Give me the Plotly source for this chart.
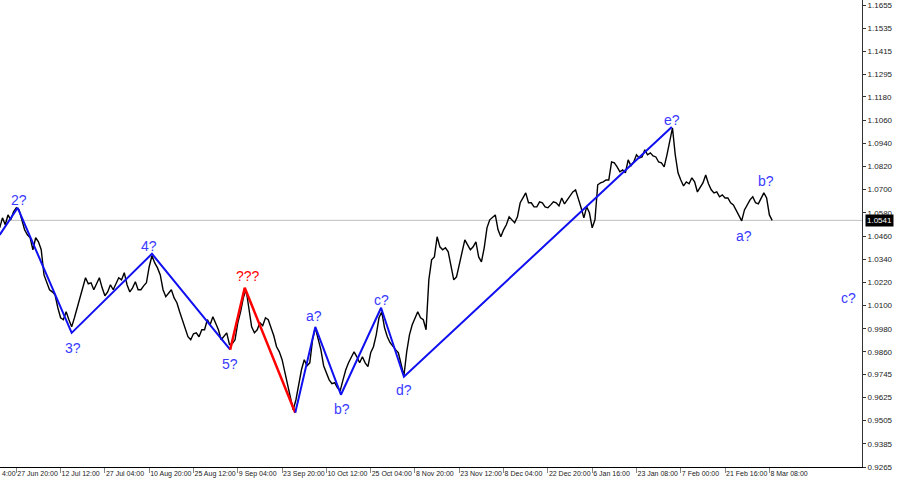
import plotly.graph_objects as go

close = [
    1.0502, 1.0554, 1.0518, 1.0569, 1.0544, 1.0585, 1.0606, 1.0595, 1.0544, 1.0492,
    1.0466, 1.0451, 1.0389, 1.0451, 1.0430, 1.0389, 1.0259, 1.0218, 1.0182, 1.0171,
    1.0156, 1.0089, 1.0037, 1.0027, 1.0068, 1.0027, 0.9990, 1.0037, 1.0089, 1.0130,
    1.0182, 1.0244, 1.0213, 1.0218, 1.0182, 1.0218, 1.0244, 1.0192, 1.0151, 1.0171,
    1.0208, 1.0182, 1.0218, 1.0244, 1.0233, 1.0270, 1.0208, 1.0171, 1.0192, 1.0223,
    1.0182, 1.0182, 1.0202, 1.0218, 1.0301, 1.0358, 1.0321, 1.0295, 1.0259, 1.0182,
    1.0146, 1.0166, 1.0182, 1.0140, 1.0115, 1.0068, 1.0027, 0.9975, 0.9939, 0.9923,
    0.9954, 0.9959, 0.9939, 0.9975, 0.9975, 1.0027, 1.0001, 1.0042, 1.0011, 0.9975,
    0.9923, 0.9944, 0.9959, 0.9898, 0.9903, 0.9923, 1.0011, 1.0068, 1.0140, 1.0182,
    1.0094, 0.9990, 0.9959, 0.9975, 1.0011, 0.9996, 1.0037, 1.0027, 0.9985, 0.9944,
    0.9887, 0.9861, 0.9820, 0.9753, 0.9696, 0.9623, 0.9561, 0.9613, 0.9691, 0.9768,
    0.9820, 0.9789, 0.9804, 0.9923, 0.9985, 0.9923, 0.9872, 0.9789, 0.9753, 0.9716,
    0.9696, 0.9701, 0.9675, 0.9660, 0.9716, 0.9768, 0.9804, 0.9835, 0.9861, 0.9835,
    0.9804, 0.9835, 0.9804, 0.9784, 0.9856, 0.9887, 0.9949, 1.0037, 1.0068, 0.9985,
    0.9939, 0.9908, 0.9887, 0.9872, 0.9856, 0.9794, 0.9737, 0.9861, 0.9949, 1.0001,
    1.0037, 1.0068, 1.0037, 1.0027, 0.9975, 1.0233, 1.0337, 1.0352, 1.0456, 1.0404,
    1.0389, 1.0399, 1.0378, 1.0306, 1.0233, 1.0249, 1.0311, 1.0378, 1.0440, 1.0414,
    1.0389, 1.0404, 1.0430, 1.0352, 1.0326, 1.0399, 1.0502, 1.0544, 1.0559, 1.0569,
    1.0492, 1.0456, 1.0492, 1.0518, 1.0559, 1.0544, 1.0528, 1.0559, 1.0632, 1.0657,
    1.0683, 1.0632, 1.0632, 1.0611, 1.0611, 1.0637, 1.0632, 1.0611, 1.0606, 1.0621,
    1.0637, 1.0632, 1.0616, 1.0657, 1.0626, 1.0647, 1.0668, 1.0688, 1.0699, 1.0657,
    1.0606, 1.0554, 1.0611, 1.0580, 1.0502, 1.0544, 1.0725, 1.0735, 1.0740, 1.0750,
    1.0750, 1.0843, 1.0838, 1.0818, 1.0792, 1.0802, 1.0787, 1.0854, 1.0823, 1.0843,
    1.0880, 1.0864, 1.0869, 1.0906, 1.0880, 1.0890, 1.0874, 1.0869, 1.0843, 1.0838,
    1.0818, 1.0880, 1.0957, 1.1019, 1.0880, 1.0787, 1.0750, 1.0719, 1.0740, 1.0730,
    1.0761, 1.0740, 1.0688, 1.0709, 1.0735, 1.0776, 1.0730, 1.0699, 1.0683, 1.0688,
    1.0663, 1.0673, 1.0657, 1.0657, 1.0632, 1.0621, 1.0595, 1.0569, 1.0538, 1.0595,
    1.0621, 1.0647, 1.0663, 1.0632, 1.0626, 1.0657, 1.0683, 1.0657, 1.0569, 1.0541,
]
first_bar = 40
bar_step = 4
bars = [first_bar + bar_step * i for i in range(len(close))]

# Wave count (bar index, price)
blue_bars_1 = [40, 66, 144, 260, 373]
blue_prices_1 = [1.0466, 1.0606, 0.9959, 1.0368, 0.9872]
red_bars = [373, 394, 467]
red_prices = [0.9872, 1.0192, 0.9546]
blue_bars_2 = [467, 496, 533, 591, 624, 1011]
blue_prices_2 = [0.9546, 0.9990, 0.9639, 1.0089, 0.9732, 1.1024]

wave_text = ["2?", "3?", "4?", "5?", "a?", "b?", "c?", "d?", "e?", "a?", "b?", "c?"]
wave_x = [68, 146, 256, 373, 494, 534, 591, 624, 1011, 1115, 1147, 1267]
wave_y = [1.0647, 0.9882, 1.0409, 0.9799, 1.0047, 0.9566, 1.0130, 0.9665, 1.1061, 1.0461, 1.0745, 1.0140]
red_text = "???"
red_x, red_y = 399, 1.0254

current_price = 1.0541

# Axis labels
first_date_label = "4:00"
date_ticks = [64 * k for k in range(1, 19)]
date_labels = ["27 Jun 20:00", "12 Jul 12:00", "27 Jul 04:00", "10 Aug 20:00", "25 Aug 12:00",
               "9 Sep 04:00", "23 Sep 20:00", "10 Oct 12:00", "25 Oct 04:00", "8 Nov 20:00",
               "23 Nov 12:00", "8 Dec 04:00", "22 Dec 20:00", "6 Jan 16:00", "23 Jan 08:00",
               "7 Feb 00:00", "21 Feb 16:00", "8 Mar 08:00"]
price_ticks = [1.1655, 1.1535, 1.1415, 1.1295, 1.1180, 1.1060, 1.0940, 1.0820, 1.0700, 1.0580,
               1.0460, 1.0340, 1.0220, 1.0100, 0.9980, 0.9860, 0.9745, 0.9625, 0.9505, 0.9385, 0.9265]
price_labels = [f"{v:.4f}" for v in price_ticks]

BLUE = "#1010f0"
TXT_BLUE = "#3a3aff"
RED = "#ff0000"
AXFONT = dict(family="Liberation Sans, Arial", size=7, color="#222")

fig = go.Figure()
fig.add_trace(go.Scatter(x=bars, y=close, mode="lines",
                         line=dict(color="black", width=1.4), hoverinfo="skip"))
fig.add_trace(go.Scatter(x=blue_bars_1, y=blue_prices_1, mode="lines",
                         line=dict(color=BLUE, width=2), hoverinfo="skip"))
fig.add_trace(go.Scatter(x=red_bars, y=red_prices, mode="lines",
                         line=dict(color=RED, width=2.5), hoverinfo="skip"))
fig.add_trace(go.Scatter(x=blue_bars_2, y=blue_prices_2, mode="lines",
                         line=dict(color=BLUE, width=2), hoverinfo="skip"))

fig.add_shape(type="line", xref="paper", x0=0, x1=1, yref="y", y0=current_price, y1=current_price,
              line=dict(color="#c0c0c0", width=1), layer="below")

for t, x, y in zip(wave_text, wave_x, wave_y):
    fig.add_annotation(x=x, y=y, text=t, showarrow=False,
                       font=dict(family="Liberation Sans, Arial", size=14, color=TXT_BLUE))
fig.add_annotation(x=red_x, y=red_y, text=red_text, showarrow=False,
                   font=dict(family="Liberation Sans, Arial", size=14, color=RED))

fig.add_annotation(xref="paper", x=1, xanchor="left", xshift=3, y=current_price, yref="y",
                   text=f"{current_price:.4f}", showarrow=False, bgcolor="black",
                   font=dict(family="Liberation Sans, Arial", size=8, color="white"), borderpad=1)
fig.add_annotation(xref="paper", x=0, xanchor="left", yref="paper", y=0, yanchor="top",
                   yshift=-1, text=first_date_label, showarrow=False, font=AXFONT)

fig.update_layout(
    width=900, height=485,
    margin=dict(l=0, r=38, t=0, b=18, autoexpand=False),
    paper_bgcolor="white", plot_bgcolor="white",
    showlegend=False,
    xaxis=dict(range=[40.45, 1285.8], showgrid=False, zeroline=False, automargin=False,
               showline=True, linecolor="black", linewidth=1,
               tickmode="array", tickvals=date_ticks, ticktext=date_labels,
               ticks="outside", ticklen=5, tickcolor="#888", tickangle=0,
               ticklabelposition="outside right", tickfont=AXFONT),
    yaxis=dict(range=[0.9265, 1.1681], side="right", showgrid=False, zeroline=False,
               automargin=False,
               showline=True, linecolor="#333", linewidth=1,
               tickmode="array", tickvals=price_ticks, ticktext=price_labels,
               ticks="outside", ticklen=3, tickcolor="#333",
               tickfont=dict(family="Liberation Sans, Arial", size=8, color="#222")),
)

fig.write_html("out.html", config={"displayModeBar": False},
               post_script="document.body.style.margin='0';document.body.style.overflow='hidden';")
